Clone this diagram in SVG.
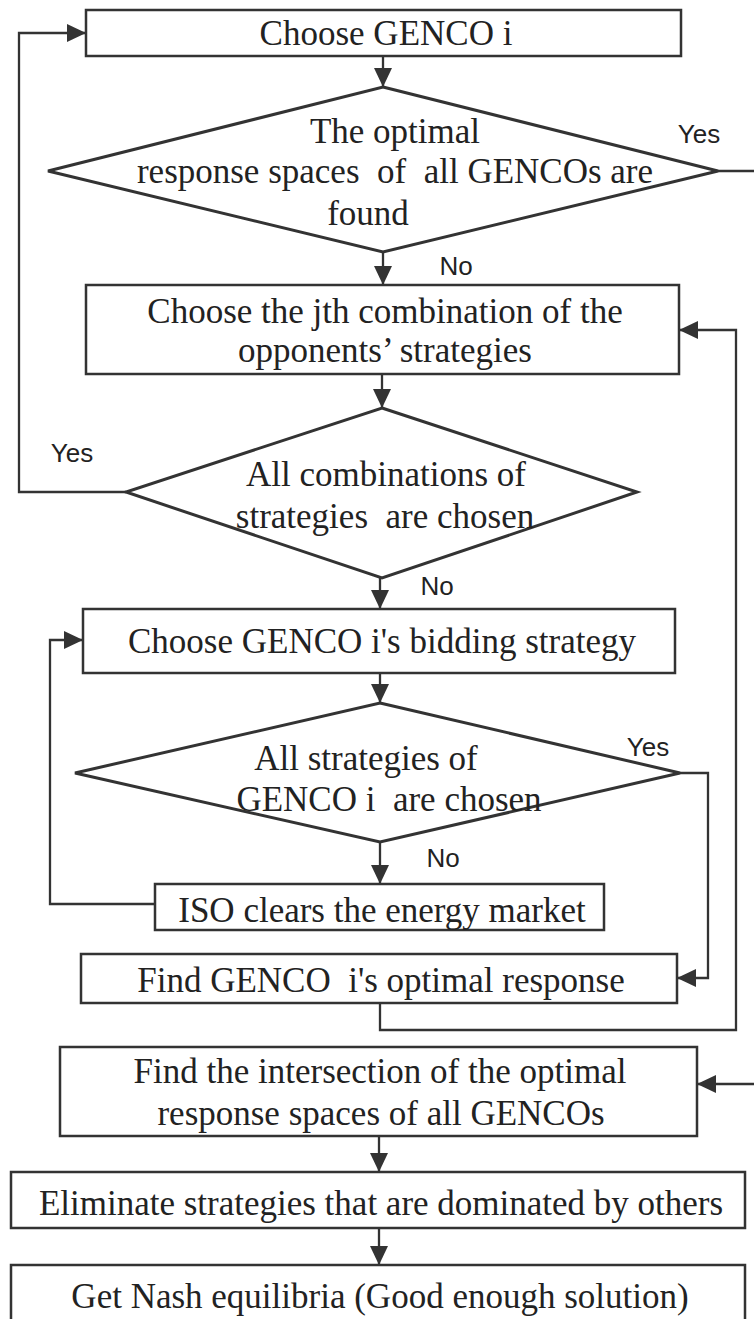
<svg xmlns="http://www.w3.org/2000/svg" width="754" height="1319" viewBox="0 0 754 1319">
<style>
.box{fill:none;stroke:#333;stroke-width:2.5}
.dia{fill:none;stroke:#333;stroke-width:3;stroke-linejoin:miter}
.con{fill:none;stroke:#333;stroke-width:2.3}
.t{font-family:"Liberation Serif","Times New Roman",serif;font-size:35px;fill:#222;text-anchor:middle}
.l{font-family:"Liberation Sans",Arial,sans-serif;font-size:26px;fill:#222;text-anchor:middle}
</style>
<defs>
<marker id="arr" markerUnits="userSpaceOnUse" markerWidth="20" markerHeight="20" refX="19" refY="10" orient="auto">
<path d="M0,1 L19,10 L0,19 z" fill="#333"/>
</marker>
</defs>
<rect width="754" height="1319" fill="#fff"/>
<g id="connectors">
<path class="con" d="M383,56 V87" marker-end="url(#arr)"/>
<path class="con" d="M383,252 V285" marker-end="url(#arr)"/>
<path class="con" d="M382,374 V408" marker-end="url(#arr)"/>
<path class="con" d="M380,578 V609" marker-end="url(#arr)"/>
<path class="con" d="M380,673 V703" marker-end="url(#arr)"/>
<path class="con" d="M380,842 V884" marker-end="url(#arr)"/>
<path class="con" d="M126,492 H19 V33 H86" marker-end="url(#arr)"/>
<path class="con" d="M718,171 H762 V1084 H697" marker-end="url(#arr)"/>
<path class="con" d="M155,904 H50 V640 H83" marker-end="url(#arr)"/>
<path class="con" d="M680,773 H708 V978 H677" marker-end="url(#arr)"/>
<path class="con" d="M380,1003 V1030 H736 V330 H679" marker-end="url(#arr)"/>
<path class="con" d="M379,1136 V1172" marker-end="url(#arr)"/>
<path class="con" d="M379,1228 V1265" marker-end="url(#arr)"/>
<text class="l" x="699" y="143">Yes</text>
<text class="l" x="456" y="275">No</text>
<text class="l" x="72" y="462">Yes</text>
<text class="l" x="437" y="595">No</text>
<text class="l" x="648" y="756">Yes</text>
<text class="l" x="443" y="867">No</text>
</g>
<g id="n1">
<rect class="box" x="86" y="10" width="595" height="46"/>
<text class="t" x="386" y="45">Choose GENCO i</text>
</g>
<g id="d1">
<polygon class="dia" points="383,87 718,171 383,252 48,171"/>
<text class="t" x="395" y="143">The optimal</text>
<text class="t" x="395" y="183" xml:space="preserve">response spaces  of  all GENCOs are</text>
<text class="t" x="368" y="225">found</text>
</g>
<g id="n2">
<rect class="box" x="86" y="285" width="593" height="89"/>
<text class="t" x="385" y="323">Choose the jth combination of the</text>
<text class="t" x="385" y="362">opponents’ strategies</text>
</g>
<g id="d2">
<polygon class="dia" points="382,408 637,492 382,578 126,492"/>
<text class="t" x="386" y="486">All combinations of</text>
<text class="t" x="385" y="528" xml:space="preserve">strategies  are chosen</text>
</g>
<g id="n3">
<rect class="box" x="83" y="609" width="592" height="64"/>
<text class="t" x="382" y="653">Choose GENCO i's bidding strategy</text>
</g>
<g id="d3">
<polygon class="dia" points="380,703 680,773 380,842 75,773"/>
<text class="t" x="366" y="770">All strategies of</text>
<text class="t" x="389" y="811" xml:space="preserve">GENCO i  are chosen</text>
</g>
<g id="n4">
<rect class="box" x="155" y="884" width="449" height="46"/>
<text class="t" x="382" y="922">ISO clears the energy market</text>
</g>
<g id="n5">
<rect class="box" x="81" y="954" width="596" height="49"/>
<text class="t" x="381" y="992" xml:space="preserve">Find GENCO  i's optimal response</text>
</g>
<g id="n6">
<rect class="box" x="60" y="1047" width="637" height="89"/>
<text class="t" x="380" y="1083">Find the intersection of the optimal</text>
<text class="t" x="381" y="1125">response spaces of all GENCOs</text>
</g>
<g id="n7">
<rect class="box" x="11" y="1172" width="734" height="56"/>
<text class="t" x="381" y="1215">Eliminate strategies that are dominated by others</text>
</g>
<g id="n8">
<rect class="box" x="11" y="1265" width="734" height="70"/>
<text class="t" x="380" y="1308">Get Nash equilibria (Good enough solution)</text>
</g>
</svg>
